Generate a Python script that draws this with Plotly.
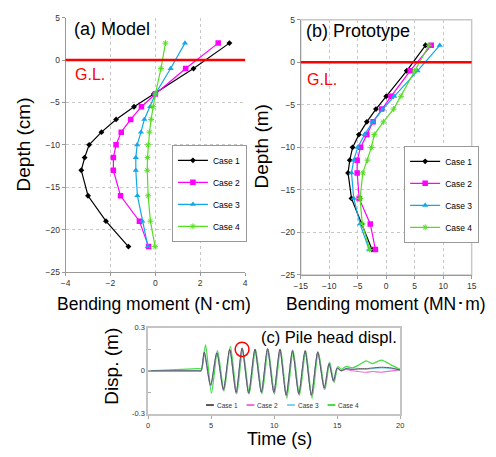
import plotly.graph_objects as go

# ---------------- data ----------------
case_names = ["Case 1", "Case 2", "Case 3", "Case 4"]

depth = [2, -1, -4, -5.5, -7, -8.5, -10, -11.5, -13, -16, -19, -22]

model_case1 = [3.3, 1.7, -0.07, -0.95, -1.75, -2.4, -2.95, -3.15, -3.3, -3.0, -2.2, -1.2]
model_case2 = [2.8, 1.35, 0.0, -0.62, -1.1, -1.52, -1.75, -1.87, -1.87, -1.55, -0.71, -0.3]
model_case3 = [1.32, 0.68, 0.0, -0.23, -0.49, -0.64, -0.81, -0.87, -0.87, -0.8, -0.58, -0.33]
model_case4 = [0.45, 0.25, 0.0, -0.1, -0.19, -0.26, -0.32, -0.35, -0.36, -0.32, -0.22, -0.01]

proto_case1 = [6.9, 3.6, 0.0, -1.8, -3.4, -4.8, -5.9, -6.4, -6.7, -6.1, -4.3, -2.5]
proto_case2 = [7.9, 4.2, 0.85, -0.8, -2.3, -3.4, -4.5, -5.1, -5.1, -4.75, -2.8, -1.9]
proto_case3 = [9.4, 5.5, 1.4, -0.6, -2.35, -3.8, -5.0, -5.7, -6.1, -5.7, -4.6, -3.0]
proto_case4 = [7.5, 5.0, 2.6, 1.3, -0.5, -2.1, -2.6, -3.3, -4.1, -4.6, -4.2, -2.9]

time_s = [0, 4.0, 4.2, 4.45, 4.95, 5.45, 5.97, 6.47, 6.98, 7.45, 7.97, 8.47, 8.98,
          9.47, 9.97, 10.45, 10.95, 11.45, 11.95, 12.45, 12.95, 13.45, 13.97, 14.35,
          14.7, 15.0, 15.3, 15.7, 16.2, 16.7, 17.3, 17.8, 18.5, 19.3, 20.0]
time_s_case4 = [0, 4.0, 4.25, 4.55, 5.02, 5.5, 6.02, 6.52, 7.03, 7.5, 8.02, 8.52, 9.03,
                9.52, 10.02, 10.5, 11.0, 11.5, 12.0, 12.5, 13.0, 13.5, 14.02, 14.4,
                14.75, 15.05, 15.3, 15.7, 16.2, 16.7, 17.3, 17.8, 18.5, 19.3, 20.0]
disp_case1 = [0, 0, 0, 0.13, -0.10, 0.125, -0.13, 0.15, -0.15, 0.16, -0.155, 0.15, -0.15,
              0.155, -0.15, 0.15, -0.17, 0.14, -0.16, 0.14, -0.17, 0.13, -0.12, 0.05,
              -0.07, 0.02, 0.0, 0.015, 0.01, 0.015, 0.015, 0.02, 0.025, 0.02, 0.005]
disp_case2 = [0, 0, 0, 0.12, -0.11, 0.13, -0.14, 0.15, -0.16, 0.155, -0.16, 0.15, -0.15,
              0.15, -0.155, 0.15, -0.175, 0.145, -0.165, 0.14, -0.175, 0.135, -0.13, 0.05,
              -0.075, 0.02, 0.0, 0.01, 0.0, -0.005, -0.01, -0.005, -0.01, 0.0, 0.005]
disp_case3 = [0, 0, 0, 0.14, -0.11, 0.13, -0.13, 0.14, -0.15, 0.15, -0.15, 0.145, -0.15,
              0.15, -0.15, 0.145, -0.17, 0.14, -0.16, 0.135, -0.17, 0.13, -0.12, 0.055,
              -0.07, 0.025, 0.005, 0.015, 0.01, 0.01, 0.01, 0.015, 0.02, 0.015, 0.005]
disp_case4 = [0, 0.015, 0.015, 0.18, -0.155, 0.14, -0.14, 0.17, -0.16, 0.15, -0.16, 0.15, -0.16,
              0.15, -0.16, 0.15, -0.19, 0.14, -0.17, 0.14, -0.19, 0.13, -0.13, 0.06,
              -0.08, 0.03, 0.01, 0.03, 0.02, 0.04, 0.07, 0.05, 0.075, 0.04, 0.01]

disp_ticks = [-0.3, -0.15, 0, 0.15, 0.3]
disp_ticktext = ["-0.3", "", "0", "", "0.3"]

highlight_t, highlight_d = 7.45, 0.15

# ---------------- style ----------------
FONT = "Liberation Sans, Arial, sans-serif"
prof_colors = ["#000000", "#FF00FF", "#12A8E8", "#55DD22"]
prof_symbols = ["diamond", "square", "triangle-up", "asterisk-open"]
prof_sizes = [4.5, 5.5, 5.5, 5]
ts_colors = ["#555555", "#F070D8", "#7FD0F0", "#44DD44"]
ts_widths = [1.0, 1.1, 1.1, 1.3]
ts_draw_order = [3, 1, 2, 0]

W, H = 496, 457
def px(x):
    return x / W
def py(y):
    return 1 - y / H

fig = go.Figure()

model = [model_case1, model_case2, model_case3, model_case4]
proto = [proto_case1, proto_case2, proto_case3, proto_case4]
disp = [disp_case1, disp_case2, disp_case3, disp_case4]
times = [time_s, time_s, time_s, time_s_case4]

for i, name in enumerate(case_names):
    mk = dict(symbol=prof_symbols[i], size=prof_sizes[i], color=prof_colors[i],
              line=dict(color=prof_colors[i], width=1 if i == 3 else 0))
    fig.add_trace(go.Scatter(x=model[i], y=depth, mode="lines+markers", name=name,
                             line=dict(color=prof_colors[i], width=1.2), marker=mk,
                             xaxis="x", yaxis="y", legend="legend", legendgroup="a%d" % i))
for i, name in enumerate(case_names):
    mk = dict(symbol=prof_symbols[i], size=prof_sizes[i], color=prof_colors[i],
              line=dict(color=prof_colors[i], width=1 if i == 3 else 0))
    fig.add_trace(go.Scatter(x=proto[i], y=depth, mode="lines+markers", name=name,
                             line=dict(color=prof_colors[i], width=1.2), marker=mk,
                             xaxis="x2", yaxis="y2", legend="legend2", legendgroup="b%d" % i))
for i in ts_draw_order:
    fig.add_trace(go.Scatter(x=times[i], y=disp[i], mode="lines", name=case_names[i],
                             line=dict(color=ts_colors[i], width=ts_widths[i], shape="spline",
                                       smoothing=0.7),
                             xaxis="x3", yaxis="y3", showlegend=False))

axis_common = dict(showline=True, linecolor="#9a9a9a", linewidth=1, ticks="outside",
                   ticklen=3, tickcolor="#9a9a9a", tickfont=dict(size=8.5, color="#333333"),
                   zeroline=False, showgrid=True, gridcolor="#c8c8c8", griddash="dot")

shapes = []
for xr, yr in (("x domain", "y"), ("x2 domain", "y2")):
    shapes.append(dict(type="line", xref=xr, yref=yr, x0=0, x1=1, y0=0, y1=0,
                       line=dict(color="#FF0000", width=2.5), layer="above"))
shapes.append(dict(type="circle", xref="x3", yref="y3",
                   x0=highlight_t - 0.55, x1=highlight_t + 0.55,
                   y0=highlight_d - 0.05, y1=highlight_d + 0.05,
                   line=dict(color="#FF0000", width=1.5)))

annotations = [
    dict(text="(a) Model", x=px(108), y=py(25), font=dict(size=18)),
    dict(text="G.L.", x=px(85), y=py(71), font=dict(size=16, color="#FF0000")),
    dict(text="(b) Prototype", x=px(360), y=py(27), font=dict(size=18)),
    dict(text="G.L.", x=px(323), y=py(76), font=dict(size=16, color="#FF0000")),
    dict(text="(c) Pile head displ.", x=px(330), y=py(339), font=dict(size=16.5)),
    dict(text="Depth (cm)", x=px(17), y=py(143), textangle=-90, font=dict(size=19)),
    dict(text="Depth (m)", x=px(261), y=py(145), textangle=-90, font=dict(size=19)),
    dict(text="Bending moment (N\uff65cm)", x=px(151), y=py(306), font=dict(size=17.5)),
    dict(text="Bending moment (MN\uff65m)", x=px(388), y=py(306), font=dict(size=17.5)),
    dict(text="Disp. (m)", x=px(107.5), y=py(369), textangle=-90, font=dict(size=19)),
    dict(text="Time (s)", x=px(279), y=py(444), font=dict(size=18)),
]
for a in annotations:
    a.update(xref="paper", yref="paper", showarrow=False, xanchor="center", yanchor="middle")
    a["font"].setdefault("color", "#000000")

# manual horizontal legend for panel (c)
leg_c_x0, leg_c_step, leg_c_y = 204, 41.5, 409
for i, name in enumerate(case_names):
    x0 = leg_c_x0 + i * leg_c_step
    shapes.append(dict(type="line", xref="paper", yref="paper", x0=px(x0), x1=px(x0 + 8),
                       y0=py(leg_c_y), y1=py(leg_c_y), line=dict(color=ts_colors[i], width=2)))
    annotations.append(dict(text=name, x=px(x0 + 9), y=py(leg_c_y), xref="paper", yref="paper",
                            showarrow=False, xanchor="left", yanchor="middle",
                            font=dict(size=6.5, color="#333333")))

legend_common = dict(xanchor="left", yanchor="top", bgcolor="#FFFFFF", bordercolor="#999999",
                     borderwidth=1, font=dict(size=8.5, color="#000000"), tracegroupgap=3,
                     itemwidth=30)

frame_c = dict(showline=True, mirror=True, linecolor="#c4c4c4", linewidth=1.5,
               tickfont=dict(size=7.5, color="#333333"), showgrid=False, zeroline=False)

fig.update_layout(
    width=W, height=H, margin=dict(l=0, r=0, t=0, b=0),
    paper_bgcolor="#FFFFFF", plot_bgcolor="#FFFFFF",
    font=dict(family=FONT, color="#000000"),
    xaxis=dict(domain=[0.121, 0.492], range=[-4, 4], dtick=2, anchor="y", **axis_common),
    yaxis=dict(domain=[0.4026, 0.9716], range=[-25, 5], dtick=5, anchor="x", **axis_common),
    xaxis2=dict(domain=[0.607, 0.960], range=[-15, 15], dtick=5, anchor="y2", **axis_common),
    yaxis2=dict(domain=[0.396, 0.967], range=[-25, 5], dtick=5, anchor="x2", **axis_common),
    xaxis3=dict(domain=[0.2917, 0.8125], range=[0, 20], dtick=5, anchor="y3",
                ticks="outside", ticklen=3, tickcolor="#aaaaaa", **frame_c),
    yaxis3=dict(domain=[0.0853, 0.2779], range=[-0.3, 0.3], tickvals=disp_ticks,
                ticktext=disp_ticktext, anchor="x3", ticks="inside", ticklen=3,
                tickcolor="#aaaaaa", **frame_c),
    legend=dict(x=px(169), y=py(143), **legend_common),
    legend2=dict(x=px(407), y=py(144), **legend_common),
    shapes=shapes, annotations=annotations,
)
# panel (b) has a full frame
fig.add_shape(type="rect", xref="x2 domain", yref="y2 domain", x0=0, x1=1, y0=0, y1=1,
              line=dict(color="#c8c8c8", width=1.5), layer="below")

fig.write_html("out.html")
